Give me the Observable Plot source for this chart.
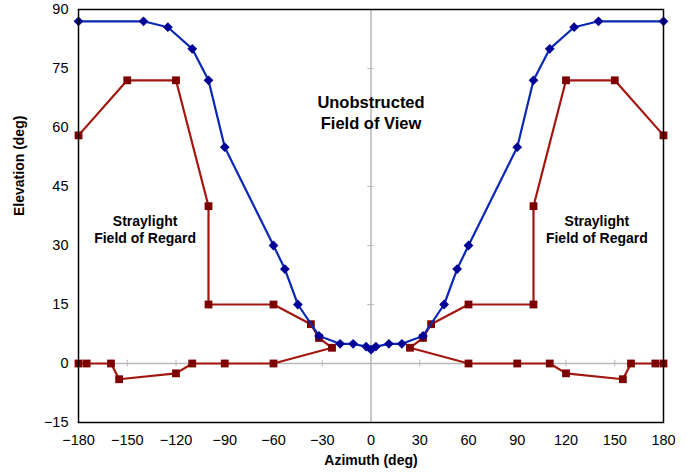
<!DOCTYPE html>
<html>
<head>
<meta charset="utf-8">
<script src="https://cdn.jsdelivr.net/npm/d3@7"></script>
<script src="https://cdn.jsdelivr.net/npm/@observablehq/plot@0.6"></script>
<style>
  html, body { margin: 0; padding: 0; background: #fff; }
  #chart svg { display: block; font-family: "Liberation Sans", Arial, Helvetica, sans-serif; }
</style>
</head>
<body>
<div id="chart"></div>
<script>
// Unobstructed field of view (blue diamonds)
const fovAzimuth   = [-180,-140,-125,-110,-100,-90,-60,-53,-45,-32,-19,-11,-3,0,3,11,19,32,45,53,60,90,100,110,125,140,180];
const fovElevation = [87,87,85.5,80,72,55,30,24,15,7,5,5,4.3,3.5,4.3,5,5,7,15,24,30,55,72,80,85.5,87,87];

// Straylight field of regard (red squares), left and right outlines
const forLeftAzimuth    = [-180,-150,-120,-100,-100,-60,-37,-32,-24,-60,-90,-110,-120,-155,-160,-175,-180];
const forLeftElevation  = [58,72,72,40,15,15,10,6.5,4,0,0,0,-2.5,-4,0,0,0];
const forRightAzimuth   = [180,150,120,100,100,60,37,32,24,60,90,110,120,155,160,175,180];
const forRightElevation = [58,72,72,40,15,15,10,6.5,4,0,0,0,-2.5,-4,0,0,0];

const xTicks = [-180,-150,-120,-90,-60,-30,0,30,60,90,120,150,180];
const yTicks = [-15,0,15,30,45,60,75,90];
const xLabel = "Azimuth (deg)";
const yLabel = "Elevation (deg)";
const centerNote = "Unobstructed\nField of View";
const sideNote = "Straylight\nField of Regard";
const centerNotePos = [{x: 0, y: 64}];
const sideNotePos = [{x: -139, y: 34.2}, {x: 139, y: 34.2}];

const fov = fovAzimuth.map((x, i) => ({x, y: fovElevation[i]}));
const forData = [
  ...forLeftAzimuth.map((x, i) => ({x, y: forLeftElevation[i], side: "left"})),
  ...forRightAzimuth.map((x, i) => ({x, y: forRightElevation[i], side: "right"}))
];

const blueLine = "#0a28b4";
const blueMark = "#000096";
const redLine = "#a3160f";
const redMark = "#7d0000";
const gray = "#b8b8b8";

const chart = Plot.plot({
  width: 691,
  height: 473,
  marginLeft: 78,
  marginRight: 28,
  marginTop: 9,
  marginBottom: 51,
  style: {fontFamily: "Liberation Sans, Arial, Helvetica, sans-serif", background: "#fff"},
  x: {domain: [-180, 180]},
  y: {domain: [-15, 90]},
  marks: [
    // zero lines with small tick marks
    Plot.ruleY([0], {stroke: gray, strokeWidth: 1.5}),
    Plot.ruleX([0], {stroke: gray, strokeWidth: 1.5}),
    Plot.ruleX(xTicks.filter(d => Math.abs(d) < 180 && d !== 0), {x: d => d, y1: -0.85, y2: 0.85, stroke: gray, strokeWidth: 1}),
    Plot.ruleY(yTicks.filter(d => d > -15 && d < 90 && d !== 0), {y: d => d, x1: -2, x2: 2, stroke: gray, strokeWidth: 1}),
    Plot.axisX({ticks: xTicks, tickSize: 0, tickPadding: 12, fontSize: 14.5, label: null, fill: "#000"}),
    Plot.axisY({ticks: yTicks, tickSize: 0, tickPadding: 10, fontSize: 14.5, label: null, fill: "#000"}),
    Plot.text([xLabel], {frameAnchor: "bottom", dy: 42, fontSize: 14, fontWeight: "bold", fill: "#000"}),
    Plot.text([yLabel], {frameAnchor: "left", dx: -59, rotate: -90, fontSize: 14, fontWeight: "bold", fill: "#000"}),
    // red field of regard
    Plot.line(forData, {x: "x", y: "y", z: "side", stroke: redLine, strokeWidth: 2.2, curve: "linear"}),
    Plot.dot(forData, {x: "x", y: "y", symbol: "square", r: 4.4, fill: redMark, stroke: "none"}),
    // blue unobstructed field of view
    Plot.line(fov, {x: "x", y: "y", stroke: blueLine, strokeWidth: 2.2, curve: "linear"}),
    Plot.dot(fov, {x: "x", y: "y", symbol: "diamond2", r: 4.4, fill: blueMark, stroke: "none"}),
    // annotations
    Plot.text(centerNotePos, {x: "x", y: "y", text: () => centerNote, fontSize: 16.5, fontWeight: "bold", lineHeight: 1.3, fill: "#000"}),
    Plot.text(sideNotePos, {x: "x", y: "y", text: () => sideNote, fontSize: 14, fontWeight: "bold", lineHeight: 1.25, fill: "#000"}),
    Plot.frame({stroke: "#000", strokeWidth: 1.5})
  ]
});
document.getElementById("chart").appendChild(chart);
</script>
</body>
</html>
